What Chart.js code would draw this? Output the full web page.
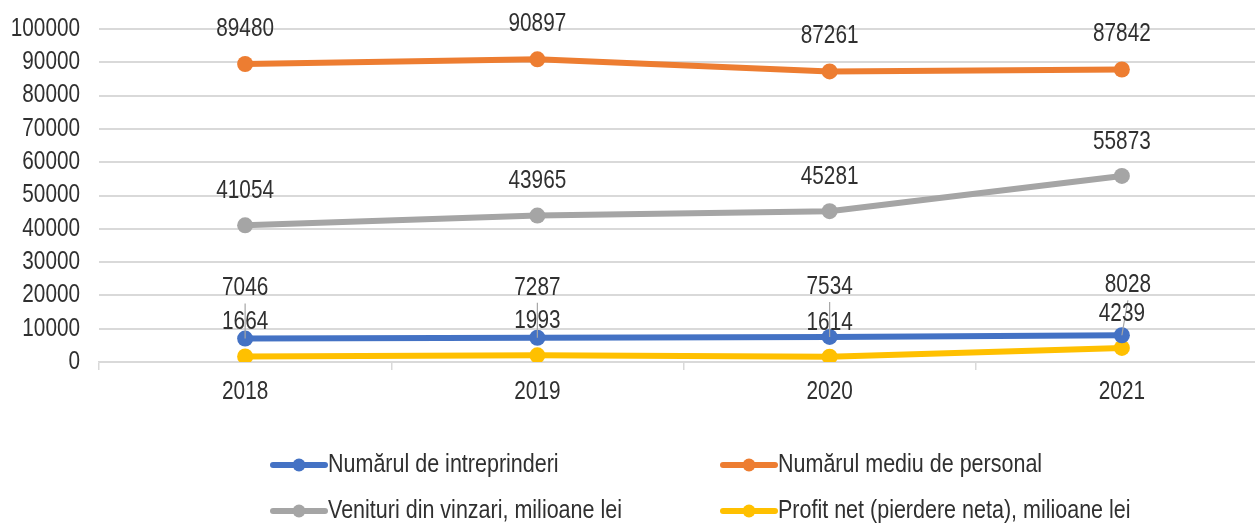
<!DOCTYPE html>
<html>
<head>
<meta charset="utf-8">
<script src="https://cdn.jsdelivr.net/npm/chart.js@4"></script>
<style>
  body { margin: 0; background: #fff; overflow: hidden; }
  #wrap { width: 1276px; height: 524px; position: relative; }
</style>
</head>
<body>
<div id="wrap"><canvas id="chart"></canvas></div>
<script>
const years = ['2018', '2019', '2020', '2021'];
const intreprinderi = [7046, 7287, 7534, 8028];
const personal = [89480, 90897, 87261, 87842];
const venituri = [41054, 43965, 45281, 55873];
const profit = [1664, 1993, 1614, 4239];
const yTicks = [0, 10000, 20000, 30000, 40000, 50000, 60000, 70000, 80000, 90000, 100000];

const FONT = "'Liberation Sans', Arial, sans-serif";
const TEXT = '#303030';

// draw text squeezed horizontally (narrow look)
function narrowText(ctx, str, x, y, align, squeeze) {
  ctx.save();
  ctx.translate(x, y);
  ctx.scale(squeeze, 1);
  ctx.textAlign = align;
  ctx.fillText(str, 0, 0);
  ctx.restore();
}

// label offsets above each point (px), per series
const labelStyle = [
  { off: 50, leader: true },
  { off: 35 },
  { off: 34 },
  { off: 34 }
];

const textPlugin = {
  id: 'allText',
  afterDatasetsDraw(chart) {
    const ctx = chart.ctx;
    ctx.save();
    ctx.font = '25px ' + FONT;
    ctx.textBaseline = 'middle';
    ctx.fillStyle = TEXT;

    // axis labels
    const ys = chart.scales.y, xs = chart.scales.x;
    yTicks.forEach(v => narrowText(ctx, String(v), 80, ys.getPixelForValue(v), 'right', 0.83));
    years.forEach((l, i) => narrowText(ctx, l, xs.getPixelForValue(i), 392, 'center', 0.83));

    // point labels
    chart.data.datasets.forEach((ds, di) => {
      const meta = chart.getDatasetMeta(di);
      const st = labelStyle[di];
      meta.data.forEach((pt, i) => {
        const lx = pt.x + (di === 0 && i === 3 ? 6 : 0);
        const ly = pt.y - st.off;
        if (st.leader) {
          ctx.strokeStyle = '#a6a6a6';
          ctx.lineWidth = 1.2;
          ctx.beginPath();
          ctx.moveTo(lx, ly + 15);
          ctx.lineTo(pt.x, pt.y);
          ctx.stroke();
        }
        ctx.fillStyle = TEXT;
        narrowText(ctx, String(ds.data[i]), lx, ly, 'center', 0.83);
      });
    });

    // legend, two columns
    const cols = [270, 720];
    const rows = [465, 511];
    chart.data.datasets.forEach((ds, i) => {
      const x = cols[i % 2];
      const y = rows[Math.floor(i / 2)];
      ctx.strokeStyle = ds.borderColor;
      ctx.lineWidth = 6;
      ctx.lineCap = 'round';
      ctx.beginPath();
      ctx.moveTo(x + 3, y);
      ctx.lineTo(x + 55, y);
      ctx.stroke();
      ctx.fillStyle = ds.borderColor;
      ctx.beginPath();
      ctx.arc(x + 29, y, 6.5, 0, Math.PI * 2);
      ctx.fill();
      ctx.fillStyle = TEXT;
      narrowText(ctx, ds.label, x + 58, y, 'left', 0.86);
    });
    ctx.restore();
  }
};

function series(label, data, color) {
  return {
    label,
    data,
    borderColor: color,
    backgroundColor: color,
    borderWidth: 6,
    pointRadius: 8,
    pointHoverRadius: 8,
    pointBorderWidth: 0,
    tension: 0
  };
}

new Chart(document.getElementById('chart'), {
  type: 'line',
  data: {
    labels: years,
    datasets: [
      series('Numărul de intreprinderi', intreprinderi, '#4472C4'),
      series('Numărul mediu de personal', personal, '#ED7D31'),
      series('Venituri din vinzari, milioane lei', venituri, '#A5A5A5'),
      series('Profit net (pierdere neta), milioane lei', profit, '#FFC000')
    ]
  },
  options: {
    responsive: true,
    maintainAspectRatio: false,
    animation: false,
    events: [],
    layout: { padding: { top: 29, right: 0, left: 0, bottom: 0 } },
    plugins: {
      legend: { display: false },
      tooltip: { enabled: false }
    },
    scales: {
      x: {
        offset: true,
        grid: {
          offset: true,
          drawOnChartArea: false,
          drawTicks: true,
          tickLength: 8,
          color: '#d9d9d9',
          lineWidth: 1.5
        },
        border: { color: '#d9d9d9', width: 1.5 },
        ticks: { display: false },
        afterFit(scale) { scale.height = 162; }
      },
      y: {
        min: 0,
        max: 100000,
        afterBuildTicks(scale) { scale.ticks = yTicks.map(v => ({ value: v })); },
        grid: { color: '#d9d9d9', lineWidth: 2, drawTicks: false },
        border: { display: false },
        ticks: { display: false },
        afterFit(scale) { scale.width = 99; }
      }
    }
  },
  plugins: [textPlugin]
});
</script>
</body>
</html>
